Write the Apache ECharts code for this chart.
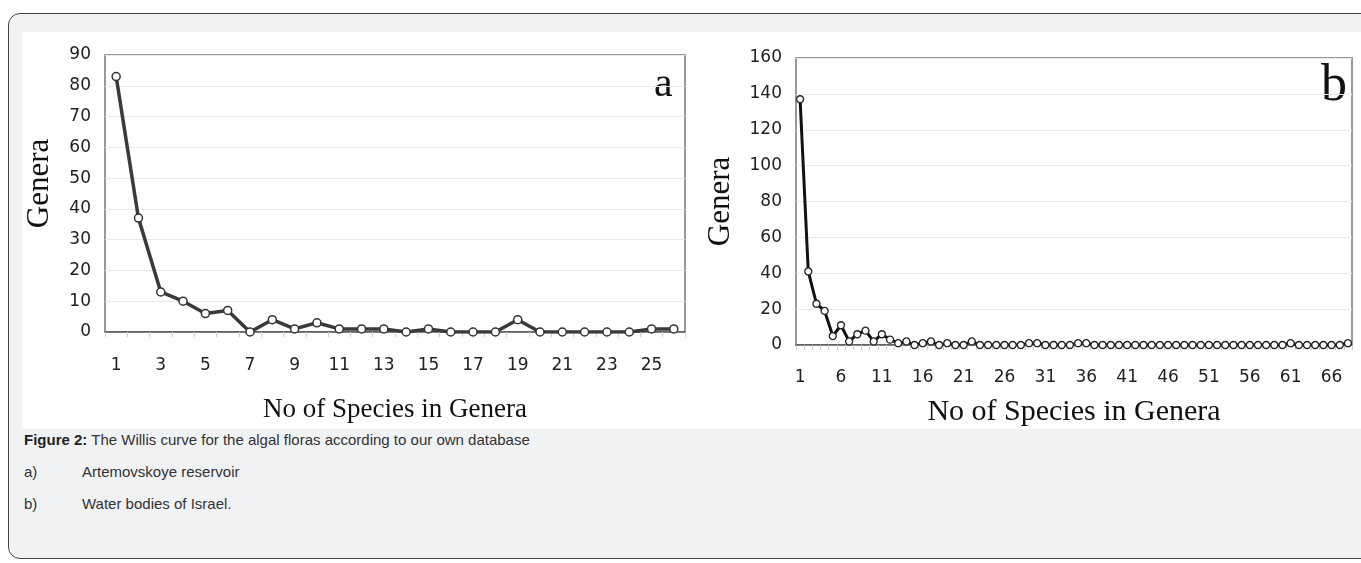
<!DOCTYPE html>
<html>
<head>
<meta charset="utf-8">
<script src="https://cdn.jsdelivr.net/npm/echarts@6/dist/echarts.min.js"></script>
<style>
html,body{margin:0;padding:0;width:1361px;height:563px;overflow:hidden;background:#ffffff;}
#frame{position:absolute;left:8px;top:13px;width:1370px;height:546px;border:1px solid #444;border-radius:12px;background:#f1f2f4;box-sizing:border-box;}
#panel{position:absolute;left:22px;top:32px;width:1339px;height:397px;background:#ffffff;}
.cap{position:absolute;left:24px;font-family:"Liberation Sans",Arial,sans-serif;font-size:15px;color:#333;white-space:nowrap;}
.cap b{color:#222;}
.cap .ind{position:absolute;left:58px;}
#chart{position:absolute;left:0;top:0;width:1361px;height:563px;}
</style>
</head>
<body>
<div id="frame"></div>
<div id="panel"></div>
<div class="cap" style="top:431px;"><b>Figure 2:</b> The Willis curve for the algal floras according to our own database</div>
<div class="cap" style="top:463px;">a)<span class="ind">Artemovskoye reservoir</span></div>
<div class="cap" style="top:495px;">b)<span class="ind">Water bodies of Israel.</span></div>
<div id="chart"></div>
<script>
// Panel a: Artemovskoye reservoir
var categoriesA = ["1","2","3","4","5","6","7","8","9","10","11","12","13","14","15","16","17","18","19","20","21","22","23","24","25","26"];
var valuesA = [83,37,13,10,6,7,0,4,1,3,1,1,1,0,1,0,0,0,4,0,0,0,0,0,1,1];
// Panel b: Water bodies of Israel
var categoriesB = ["1","2","3","4","5","6","7","8","9","10","11","12","13","14","15","16","17","18","19","20",
                   "21","22","23","24","25","26","27","28","29","30","31","32","33","34","35","36","37","38","39","40",
                   "41","42","43","44","45","46","47","48","49","50","51","52","53","54","55","56","57","58","59","60",
                   "61","62","63","64","65","66","67","68"];
var valuesB = [137,41,23,19,5,11,2,6,8,2,6,3,1,2,0,1,2,0,1,0,0,2,0,0,0,0,0,0,1,1,
               0,0,0,0,1,1,0,0,0,0,0,0,0,0,0,0,0,0,0,0,0,0,0,0,0,0,0,0,0,0,
               1,0,0,0,0,0,0,1];
var yTitle = "Genera";
var xTitle = "No of Species in Genera";

var chart = echarts.init(document.getElementById('chart'), null, {renderer:'canvas'});
var sans = '"DejaVu Sans", "Liberation Sans", Arial, sans-serif';
var serif = '"Liberation Serif", "Times New Roman", serif';

function xAxis(idx, data, labelInt, fs, margin, nameGap, nameSize){
  return {
    type:'category', gridIndex:idx, data:data, boundaryGap:true,
    axisLine:{show:true, lineStyle:{color:'#555', width:1.5}},
    axisTick:{show:true, interval:0, length:5, lineStyle:{color:'#cfcfcf'}},
    axisLabel:{interval:labelInt, color:'#222', fontFamily:sans, fontSize:fs, margin:margin},
    name:xTitle, nameLocation:'middle', nameGap:nameGap,
    nameTextStyle:{fontFamily:serif, fontSize:nameSize, color:'#111'},
    splitLine:{show:false}
  };
}
function yAxis(idx, max, interval, fs, nameGap, nameSize, shift){
  return {
    type:'value', gridIndex:idx, min:0, max:max, interval:interval,
    axisLine:{show:false}, axisTick:{show:false},
    axisLabel:{color:'#222', fontFamily:sans, fontSize:fs, margin:14},
    splitLine:{show:true, lineStyle:{color:'#e8e8e8', width:1}},
    name:yTitle, nameLocation:'middle', nameGap:nameGap, nameRotate:90,
    nameTextStyle:{fontFamily:serif, fontSize:nameSize, color:'#111', padding:[0,0,0,shift]}
  };
}

chart.setOption({
  backgroundColor:'transparent',
  animation:false,
  grid:[
    {left:105, top:55, width:580, height:277, show:true, borderColor:'#777', borderWidth:1.5, backgroundColor:'transparent'},
    {left:796, top:58, width:556, height:287, show:true, borderColor:'#777', borderWidth:1.5, backgroundColor:'transparent'}
  ],
  xAxis:[ xAxis(0, categoriesA, 1, 17, 25, 64, 27), xAxis(1, categoriesB, 4, 17, 24, 52, 30) ],
  yAxis:[ yAxis(0, 90, 10, 17, 50, 31, 20), yAxis(1, 160, 20, 17, 60, 31, 0) ],
  series:[
    {type:'line', xAxisIndex:0, yAxisIndex:0, data:valuesA, symbol:'circle', symbolSize:8, showAllSymbol:true,
     lineStyle:{color:'#3a3a3a', width:3.5},
     itemStyle:{color:'#ffffff', borderColor:'#333', borderWidth:1.5}},
    {type:'line', xAxisIndex:1, yAxisIndex:1, data:valuesB, symbol:'circle', symbolSize:7, showAllSymbol:true,
     lineStyle:{color:'#111', width:3},
     itemStyle:{color:'#ffffff', borderColor:'#222', borderWidth:1.3}}
  ],
  graphic:[
    {type:'text', left:654, top:64, style:{text:'a', font:'42px ' + serif, fill:'#111'}},
    {type:'text', left:1321, top:60, style:{text:'b', font:'52px ' + serif, fill:'#111'}}
  ]
});
</script>
</body>
</html>
